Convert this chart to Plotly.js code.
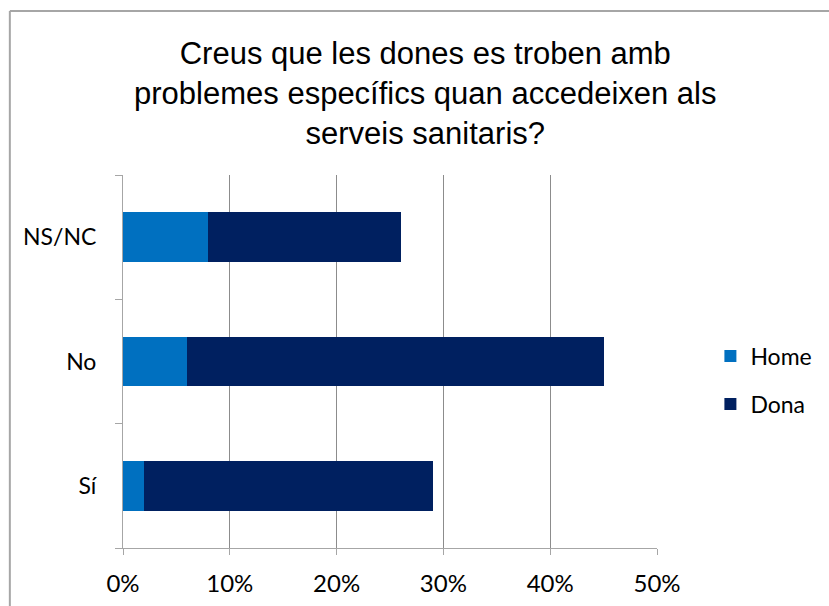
<!DOCTYPE html>
<html>
<head>
<meta charset="utf-8">
<script src="https://cdn.plot.ly/plotly-3.0.1.min.js"></script>
<style>
  html, body { margin: 0; padding: 0; background: #fff; }
  #chart { width: 829px; height: 606px; }
</style>
</head>
<body>
<div id="chart"></div>
<script>
// categories, bottom to top as drawn
var categories = ['Sí', 'No', 'NS/NC'];
var home = [0.02, 0.06, 0.08];
var dona = [0.27, 0.39, 0.18];
var xTicks = [0, 0.1, 0.2, 0.3, 0.4, 0.5];
var xTickLabels = ['0%', '10%', '20%', '30%', '40%', '50%'];

var titleText = 'Creus que les dones es troben amb<br>problemes específics quan accedeixen als<br>serveis sanitaris?';

var data = [
    {
        type: 'bar', orientation: 'h', name: 'Home',
        y: categories, x: home,
        marker: {color: '#0070C0'},
        legendgroup: 'a', hoverinfo: 'skip'
    },
    {
        type: 'bar', orientation: 'h', name: 'Dona',
        y: categories, x: dona,
        marker: {color: '#002060'},
        legendgroup: 'b', hoverinfo: 'skip'
    }
];

var gray = '#a6a6a6';

var layout = {
    width: 829, height: 606,
    margin: {l: 123, r: 168, t: 175, b: 58},
    paper_bgcolor: '#ffffff',
    plot_bgcolor: '#ffffff',
    barmode: 'stack',
    bargap: 0.6,
    font: {family: 'Lato, "Open Sans", sans-serif', color: '#000000'},
    title: {
        text: titleText,
        font: {family: '"Liberation Sans", Arial, sans-serif', size: 31, color: '#000000'},
        x: 0.513, xref: 'container', xanchor: 'center',
        y: 0.895, yref: 'container', yanchor: 'top'
    },
    xaxis: {
        range: [0, 0.5],
        tickvals: xTicks, ticktext: xTickLabels,
        showgrid: true, gridcolor: '#8c8c8c', gridwidth: 1,
        zeroline: false,
        showline: true, linecolor: gray, linewidth: 1,
        ticks: 'outside', ticklen: 6, tickcolor: gray,
        ticklabelstandoff: 8,
        tickfont: {size: 24, family: 'Lato, sans-serif'},
        fixedrange: true
    },
    yaxis: {
        type: 'category',
        range: [-0.5, 2.5],
        showgrid: false,
        showline: true, linecolor: gray, linewidth: 1,
        ticks: 'outside', ticklen: 7, tickcolor: gray,
        tickson: 'boundaries',
        ticklabelstandoff: 21,
        tickfont: {size: 23, family: 'Lato, sans-serif'},
        fixedrange: true
    },
    showlegend: true,
    legend: {
        x: 1.1, xanchor: 'left',
        y: 0.45, yanchor: 'middle',
        traceorder: 'grouped',
        tracegroupgap: 15,
        font: {size: 23, family: 'Lato, sans-serif'},
        itemwidth: 30
    },
    shapes: [
        {type: 'line', xref: 'paper', yref: 'paper', x0: -0.2119, x1: -0.2119, y0: 1.4397, y1: -0.3, line: {color: gray, width: 2}},
        {type: 'line', xref: 'paper', yref: 'paper', x0: -0.2119, x1: 1.4, y0: 1.4397, y1: 1.4397, line: {color: gray, width: 2}}
    ]
};

Plotly.newPlot('chart', data, layout, {displayModeBar: false, staticPlot: true});
</script>
</body>
</html>
